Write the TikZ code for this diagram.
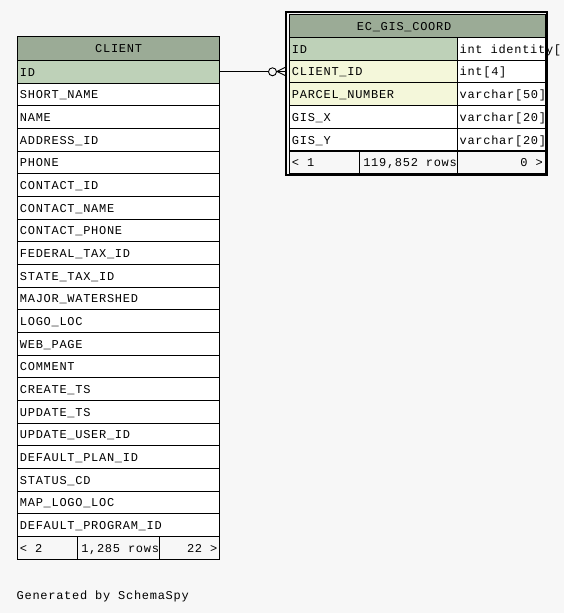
\documentclass[tikz,border=0pt]{standalone}
\usepackage{fontspec}
\setmonofont[LetterSpace=6]{Liberation Mono}
\usetikzlibrary{calc}
\definecolor{bgc}{HTML}{F7F7F7}
\definecolor{headc}{HTML}{9BAB96}
\definecolor{pkc}{HTML}{BED1B8}
\definecolor{fkc}{HTML}{F4F7DA}
\newcommand\sgap{\hspace*{7.92pt}}
\tikzset{
  cell/.style={draw=black, line width=0.9pt, rectangle, anchor=north west,
    inner xsep=2.5pt, inner ysep=0pt, minimum height=22.67pt,
    text height=9pt, text depth=0pt, align=left,
    font=\ttfamily\fontsize{12}{12}\selectfont},
  cw/.style={text width=197.3pt},
  nw/.style={text width=162.7pt},
  tw/.style={text width=83.6pt},
  link/.style={line width=0.9pt, draw=black},
}
\begin{document}
\begin{tikzpicture}[x=1pt,y=-1pt]
\fill[bgc] (0,0) rectangle (564,613);
\useasboundingbox (0,0) rectangle (564,613);

% ---------- CLIENT ----------
\node[cell, cw, fill=headc, align=center, minimum height=24pt] (ch) at (17,36) {CLIENT};
\node[cell, cw, fill=pkc] (c0) at (17,60) {ID};
\foreach \n [count=\i] in {SHORT\_NAME, NAME, ADDRESS\_ID, PHONE, CONTACT\_ID,
  CONTACT\_NAME, CONTACT\_PHONE, FEDERAL\_TAX\_ID, STATE\_TAX\_ID,
  MAJOR\_WATERSHED, LOGO\_LOC, WEB\_PAGE, COMMENT, CREATE\_TS, UPDATE\_TS,
  UPDATE\_USER\_ID, DEFAULT\_PLAN\_ID, STATUS\_CD, MAP\_LOGO\_LOC,
  DEFAULT\_PROGRAM\_ID}
  \node[cell, cw, fill=white] (c\i) at (17,{60+22.667*\i}) {\n};
\node[cell, fill=bgc, text width=55.3pt] (cf1) at (17,536) {<\sgap 2};
\node[cell, fill=bgc, text width=77pt, inner xsep=3.5pt] (cf2) at (77.3,536) {1,285\sgap rows};
\node[cell, fill=bgc, text width=55pt, align=right] (cf3) at (159.3,536) {22\sgap >};

% ---------- EC_GIS_COORD ----------
\node[cell, fill=headc, text width=121.3pt, inner xsep=67.5pt, minimum height=23pt] (eh) at (289,14) {EC\_GIS\_COORD};
\node[cell, nw, fill=pkc]   (e1) at (289,37) {ID};
\node[cell, tw, fill=white] (t1) at (456.7,37) {int\sgap identity[};
\node[cell, nw, fill=fkc]   (e2) at (289,59.7) {CLIENT\_ID};
\node[cell, tw, fill=white] (t2) at (456.7,59.7) {int[4]};
\node[cell, nw, fill=fkc]   (e3) at (289,82.4) {PARCEL\_NUMBER};
\node[cell, tw, fill=white] (t3) at (456.7,82.4) {varchar[50]};
\node[cell, nw, fill=white] (e4) at (289,105.1) {GIS\_X};
\node[cell, tw, fill=white] (t4) at (456.7,105.1) {varchar[20]};
\node[cell, nw, fill=white] (e5) at (289,127.8) {GIS\_Y};
\node[cell, tw, fill=white] (t5) at (456.7,127.8) {varchar[20]};
\node[cell, fill=bgc, text width=65.3pt] (ef1) at (289,150.5) {<\sgap 1};
\node[cell, fill=bgc, text width=90.4pt, inner xsep=3.5pt] (ef2) at (359.3,150.5) {119,852\sgap rows};
\node[cell, fill=bgc, text width=82.6pt, inner xsep=3pt, align=right] (ef3) at (456.7,150.5) {0\sgap >};
\draw[line width=2pt] (286.3,12) rectangle (547.3,175.3);

% ---------- relationship ----------
\coordinate (foot) at ($(e2.west)+(-3,0)$);
\coordinate (ring) at ($(c0.east -| foot)+(-13.5,0)$);
\draw[link] (c0.east) -- ($(ring)+(-4,0)$);
\draw[link] (ring) circle (4);
\draw[link] ($(foot)+(-9,0)$) -- ($(foot)+(0,-4.5)$);
\draw[link] ($(foot)+(-9,0)$) -- ($(foot)+(0,4.5)$);
\draw[link] ($(foot)+(-9,0)$) -- (foot);

\node[anchor=base west, inner sep=0pt, font=\ttfamily\fontsize{12}{12}\selectfont] (gen) at (16.5,599) {Generated\sgap by\sgap SchemaSpy};
\end{tikzpicture}
\end{document}
